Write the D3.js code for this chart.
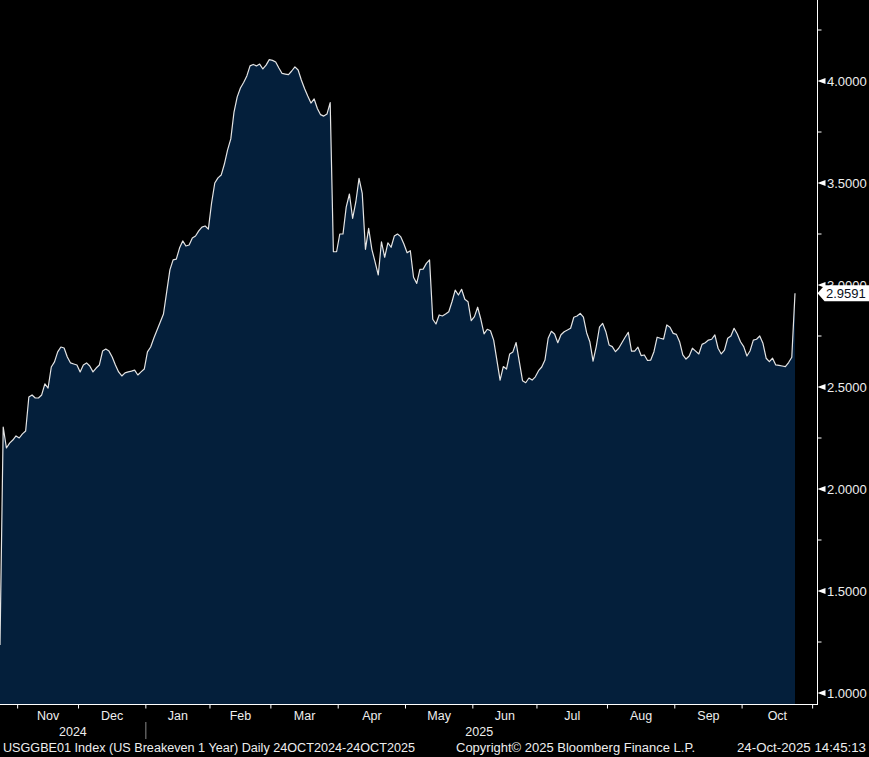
<!DOCTYPE html>
<html><head><meta charset="utf-8">
<script src="https://cdn.jsdelivr.net/npm/d3@7"></script>
<style>html,body{margin:0;padding:0;background:#000;overflow:hidden}svg{display:block}</style>
</head><body>
<svg id="chart" width="869" height="757"></svg>
<script>
// ---- data: US Breakeven 1 Year, daily closes by month (trading days) ----
const oct2024 = [1.235, 2.304, 2.201, 2.225, 2.240, 2.260];
const nov2024 = [2.250, 2.270, 2.284, 2.451, 2.461, 2.446, 2.446, 2.461, 2.515, 2.495, 2.598, 2.623, 2.672, 2.696, 2.691, 2.647, 2.618, 2.613, 2.608];
const dec2024 = [2.574, 2.608, 2.618, 2.603, 2.574, 2.593, 2.608, 2.676, 2.686, 2.676, 2.647, 2.608, 2.574, 2.554, 2.569, 2.574, 2.578, 2.583, 2.559, 2.574, 2.588];
const jan2025 = [2.672, 2.696, 2.740, 2.779, 2.819, 2.858, 2.966, 3.074, 3.123, 3.127, 3.181, 3.216, 3.191, 3.196, 3.230, 3.240, 3.265, 3.284, 3.289, 3.274];
const feb2025 = [3.402, 3.500, 3.525, 3.539, 3.593, 3.662, 3.716, 3.848, 3.922, 3.966, 3.993, 4.025, 4.074, 4.081, 4.074, 4.083, 4.059, 4.078, 4.105];
const mar2025 = [4.101, 4.093, 4.064, 4.037, 4.034, 4.031, 4.049, 4.069, 4.054, 4.005, 3.963, 3.926, 3.892, 3.912, 3.865, 3.835, 3.828, 3.838, 3.894, 3.163, 3.163];
const apr2025 = [3.250, 3.250, 3.382, 3.446, 3.327, 3.407, 3.523, 3.449, 3.175, 3.278, 3.175, 3.113, 3.049, 3.212, 3.136, 3.207, 3.185, 3.240, 3.250, 3.237, 3.201];
const may2025 = [3.158, 3.168, 3.038, 3.008, 3.077, 3.078, 3.106, 3.123, 2.832, 2.809, 2.853, 2.848, 2.858, 2.869, 2.918, 2.975, 2.951, 2.979, 2.930, 2.918, 2.825];
const jun2025 = [2.845, 2.891, 2.832, 2.760, 2.783, 2.776, 2.730, 2.632, 2.534, 2.600, 2.588, 2.662, 2.672, 2.718, 2.624, 2.531, 2.521, 2.544, 2.534, 2.550];
const jul2025 = [2.580, 2.598, 2.632, 2.739, 2.773, 2.760, 2.717, 2.756, 2.771, 2.779, 2.788, 2.842, 2.848, 2.861, 2.842, 2.766, 2.722, 2.627, 2.698, 2.793, 2.812, 2.771];
const aug2025 = [2.706, 2.698, 2.673, 2.690, 2.717, 2.744, 2.768, 2.676, 2.676, 2.695, 2.654, 2.657, 2.630, 2.632, 2.673, 2.744, 2.739, 2.735, 2.804, 2.793, 2.763];
const sep2025 = [2.758, 2.722, 2.657, 2.637, 2.652, 2.690, 2.676, 2.662, 2.709, 2.717, 2.730, 2.734, 2.755, 2.690, 2.662, 2.681, 2.739, 2.750, 2.788, 2.760, 2.722];
const oct2025 = [2.698, 2.652, 2.678, 2.730, 2.734, 2.750, 2.714, 2.641, 2.624, 2.641, 2.608, 2.606, 2.603, 2.600, 2.620, 2.646, 2.9591];

const startDate = "2024-10-24";
const axisEndDate = "2025-11-03";
const holidays = ["2024-11-11","2024-11-28","2024-12-25","2025-01-01","2025-01-09","2025-01-20",
                  "2025-02-17","2025-04-18","2025-05-26","2025-06-19","2025-07-04","2025-09-01","2025-10-13"];
const monthLabels = ["Nov","Dec","Jan","Feb","Mar","Apr","May","Jun","Jul","Aug","Sep","Oct"];
const yearLabels = ["2024","2025"];
const yTicks = [1.0, 1.5, 2.0, 2.5, 3.0, 3.5, 4.0];
const yMinorTicks = [1.25, 1.75, 2.25, 2.75, 3.25, 3.75, 4.25];
const lastValue = 2.9591;
const footerLeft = "USGGBE01 Index (US Breakeven 1 Year) Daily 24OCT2024-24OCT2025";
const footerMid = "Copyright\u00A9 2025 Bloomberg Finance L.P.";
const footerRight = "24-Oct-2025 14:45:13";

// ---- build trading calendar ----
const values = [].concat(oct2024, nov2024, dec2024, jan2025, feb2025, mar2025, apr2025,
                         may2025, jun2025, jul2025, aug2025, sep2025, oct2025);
const fmt = d3.utcFormat("%Y-%m-%d");
const parse = d3.utcParse("%Y-%m-%d");
const hol = new Set(holidays);
const calendar = d3.utcDays(parse(startDate), d3.utcDay.offset(parse(axisEndDate), 1))
  .filter(d => d.getUTCDay() !== 0 && d.getUTCDay() !== 6 && !hol.has(fmt(d)));
const data = values.map((v, i) => ({date: calendar[i], i, v}));

const W = 869, H = 757;
const plotRight = 795, axisX = 817.5, axisY = 704.5;
const svg = d3.select("#chart");
svg.append("rect").attr("width", W).attr("height", H).attr("fill", "#000");

const x = d3.scaleLinear().domain([0, values.length - 1]).range([0, plotRight]);
const y = d3.scaleLinear().domain([1, 4]).range([693, 81]);

const textColor = "#eeeeee";
const font = "'Liberation Sans', Arial, sans-serif";

// area + line
svg.append("path").datum(data)
  .attr("d", d3.area().x(d => x(d.i)).y0(axisY).y1(d => y(d.v)))
  .attr("fill", "#041f3b");
svg.append("path").datum(data)
  .attr("d", d3.line().x(d => x(d.i)).y(d => y(d.v)))
  .attr("fill", "none").attr("stroke", "#e4e4e4").attr("stroke-width", 1.2)
  .attr("stroke-linejoin", "round");

// bottom axis
svg.append("line").attr("x1", 0).attr("x2", axisX + 0.5).attr("y1", axisY).attr("y2", axisY)
  .attr("stroke", "#fff").attr("stroke-width", 1);

// month boundaries: half a step before first trading day of month
const monthStarts = d3.utcMonths(d3.utcMonth.ceil(parse(startDate)), d3.utcDay.offset(parse(axisEndDate), 1));
const boundaries = monthStarts.map(m => {
  const k = calendar.findIndex(d => d >= m);
  return {month: m, bx: x(k - 0.5)};
});
svg.selectAll(".xt").data(boundaries).enter().append("line")
  .attr("x1", d => d.bx).attr("x2", d => d.bx).attr("y1", axisY).attr("y2", axisY + 4)
  .attr("stroke", "#fff").attr("stroke-width", 1);
svg.selectAll(".ml").data(monthLabels).enter().append("text")
  .attr("x", (d, j) => (boundaries[j].bx + boundaries[j + 1].bx) / 2)
  .attr("y", 720).attr("text-anchor", "middle")
  .attr("fill", textColor).attr("font-family", font).attr("font-size", 12.5)
  .text(d => d);
const janB = boundaries.find(b => b.month.getUTCMonth() === 0).bx;
const endB = boundaries[boundaries.length - 1].bx;
svg.append("line").attr("x1", janB).attr("x2", janB).attr("y1", 722).attr("y2", 739)
  .attr("stroke", "#8a8a8a").attr("stroke-width", 1);
svg.append("text").attr("x", janB / 2).attr("y", 736).attr("text-anchor", "middle")
  .attr("fill", textColor).attr("font-family", font).attr("font-size", 12.5).text(yearLabels[0]);
svg.append("text").attr("x", (janB + endB) / 2).attr("y", 736).attr("text-anchor", "middle")
  .attr("fill", textColor).attr("font-family", font).attr("font-size", 12.5).text(yearLabels[1]);

// right axis
svg.append("line").attr("x1", axisX).attr("x2", axisX).attr("y1", 0).attr("y2", axisY + 0.5)
  .attr("stroke", "#fff").attr("stroke-width", 1);
svg.selectAll(".mt").data(yMinorTicks).enter().append("line")
  .attr("x1", axisX).attr("x2", axisX + 4).attr("y1", d => y(d)).attr("y2", d => y(d))
  .attr("stroke", "#fff").attr("stroke-width", 1);
svg.selectAll(".mk").data(yTicks).enter().append("path")
  .attr("d", d => `M${axisX},${y(d)} L${axisX + 8},${y(d) - 3} L${axisX + 8},${y(d) + 3} Z`)
  .attr("fill", "#fff");
svg.selectAll(".yl").data(yTicks).enter().append("text")
  .attr("x", 827).attr("y", d => y(d) + 4.5)
  .attr("fill", textColor).attr("font-family", font).attr("font-size", 13)
  .text(d => d3.format(".4f")(d));

// last value flag
const ly = y(lastValue);
svg.append("path")
  .attr("d", `M${axisX},${ly} L${axisX + 7},${ly - 8} L${W},${ly - 8} L${W},${ly + 8} L${axisX + 7},${ly + 8} Z`)
  .attr("fill", "#fff");
svg.append("text").attr("x", 826).attr("y", ly + 4.5)
  .attr("fill", "#0a1020").attr("font-family", font).attr("font-size", 13)
  .text(d3.format(".4f")(lastValue));

// footer
const foot = [[footerLeft, 3, 412], [footerMid, 456, 239], [footerRight, 737, 129]];
svg.selectAll(".ft").data(foot).enter().append("text")
  .attr("x", d => d[1]).attr("y", 752)
  .attr("textLength", d => d[2]).attr("lengthAdjust", "spacingAndGlyphs")
  .attr("fill", textColor).attr("font-family", font).attr("font-size", 12.5)
  .text(d => d[0]);
</script>
</body></html>
